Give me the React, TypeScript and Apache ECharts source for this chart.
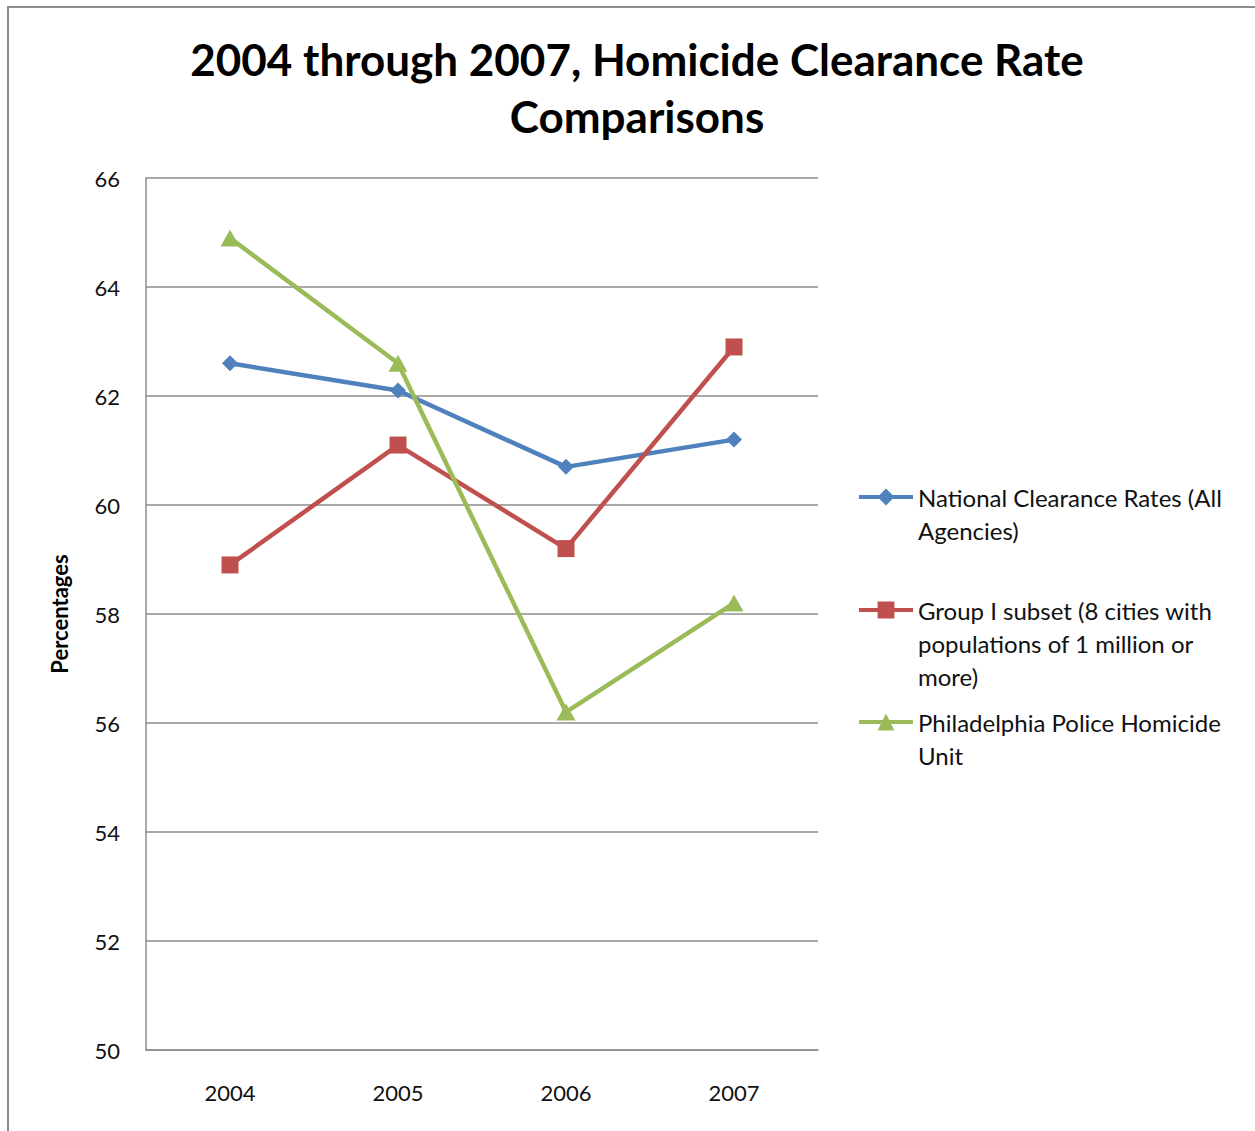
import React, { useEffect, useRef } from "react";
import * as echarts from "echarts";

const titleText = "2004 through 2007, Homicide Clearance Rate\nComparisons";
const yAxisName = "Percentages";
const years = ["2004", "2005", "2006", "2007"];
const seriesNames = [
  "National Clearance Rates (All Agencies)",
  "Group I subset (8 cities with populations of 1 million or more)",
  "Philadelphia Police Homicide Unit",
];
const legendLines = [
  ["National Clearance Rates (All", "Agencies)"],
  ["Group I subset (8 cities with", "populations of 1 million or", "more)"],
  ["Philadelphia Police Homicide", "Unit"],
];
const nationalRates = [62.6, 62.1, 60.7, 61.2];
const groupIRates = [58.9, 61.1, 59.2, 62.9];
const philadelphiaRates = [64.9, 62.6, 56.2, 58.2];
const yMin = 50;
const yMax = 66;
const yInterval = 2;

const colors = ["#4F81BD", "#C0504D", "#9BBB59"];
const symbols = ["diamond", "rect", "triangle"];
const symbolSizes = [[16, 16], [17, 17], [19, 17]];
const FONT = "Lato, 'Open Sans', sans-serif";

export default function App() {
  const ref = useRef<HTMLDivElement>(null);
  useEffect(() => {
    if (!ref.current) return;
    const chart = echarts.init(ref.current, undefined, { renderer: "svg" });
    const values = [nationalRates, groupIRates, philadelphiaRates];
    const lineH = 33;
    const legendCenters = [497, 610, 722];
    const legends = legendLines.map((lines, i) => {
      const pad = new Array(lines.length - 1).fill("").join("\n");
      const text = (lines.length > 1 ? pad + "\n" : "") + lines.join("\n");
      const total = lines.length * 2 - 1;
      return {
        data: [seriesNames[i]],
        left: 857,
        top: legendCenters[i] - (total * lineH) / 2,
        padding: 0,
        itemWidth: 54,
        itemHeight: 21,
        formatter: () => text,
        lineStyle: { width: 4 },
        textStyle: { fontFamily: FONT, fontSize: 24, color: "#111", lineHeight: lineH },
        selectedMode: false,
      };
    });
    chart.setOption({
      animation: false,
      backgroundColor: "#fff",
      title: {
        text: titleText,
        left: 632,
        textAlign: "center",
        top: 25,
        textStyle: { fontFamily: FONT, fontSize: 44, fontWeight: "bold", color: "#000", lineHeight: 57 },
      },
      graphic: [
        { type: "rect", shape: { x: 8, y: 7, width: 1300, height: 1200 }, style: { fill: "none", stroke: "#8c8c8c", lineWidth: 2 }, silent: true },
      ],
      legend: legends,
      grid: { left: 146, top: 178, width: 672, height: 872, containLabel: false },
      xAxis: {
        type: "category",
        data: years,
        boundaryGap: true,
        axisLine: { lineStyle: { color: "#8c8c8c", width: 1.5 } },
        axisTick: { show: false },
        axisLabel: { fontFamily: FONT, fontSize: 22, color: "#111", margin: 31 },
      },
      yAxis: {
        type: "value",
        min: yMin,
        max: yMax,
        interval: yInterval,
        name: yAxisName,
        nameLocation: "middle",
        nameGap: 76,
        nameTextStyle: { fontFamily: FONT, fontSize: 22, fontWeight: "bold", color: "#000" },
        axisLine: { show: true, lineStyle: { color: "#8c8c8c", width: 1.5 } },
        axisTick: { show: false },
        splitLine: { lineStyle: { color: "#8c8c8c", width: 1.5 } },
        axisLabel: { fontFamily: FONT, fontSize: 22, color: "#111", margin: 26 },
      },
      series: values.map((v, i) => ({
        name: seriesNames[i],
        type: "line",
        data: v,
        color: colors[i],
        symbol: symbols[i],
        symbolSize: symbolSizes[i],
        showSymbol: true,
        lineStyle: { width: 4.5, color: colors[i] },
        itemStyle: { color: colors[i] },
        z: 2 + (i === 2 ? 1 : 0),
      })),
    });
    return () => chart.dispose();
  }, []);
  return <div ref={ref} style={{ position: "absolute", left: 0, top: 0, width: 1255, height: 1131 }} />;
}
